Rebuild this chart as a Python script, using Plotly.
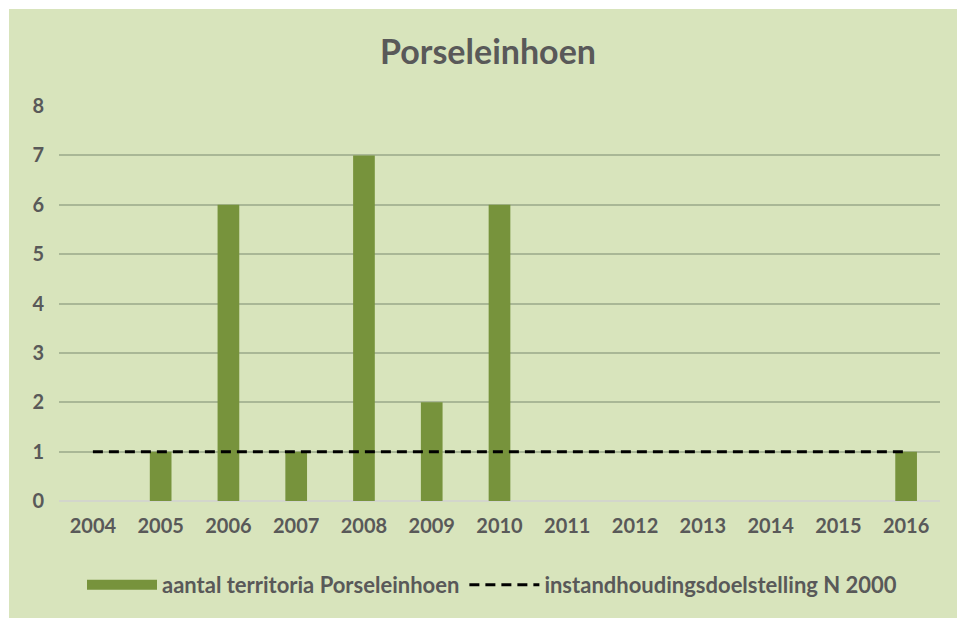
import plotly.graph_objects as go

years = ["2004", "2005", "2006", "2007", "2008", "2009", "2010",
         "2011", "2012", "2013", "2014", "2015", "2016"]
territoria = [0, 1, 6, 1, 7, 2, 6, 0, 0, 0, 0, 0, 1]
doelstelling = [1, 1, 1, 1, 1, 1, 1, 1, 1, 1, 1, 1, 1]
y_ticks = [0, 1, 2, 3, 4, 5, 6, 7, 8]

W, H = 957, 618
L, R, T, B = 59, 17, 106, 117
bg = "#d8e4bc"
bar_col = "#77933c"
txt = "#595959"
font_fam = "Lato, Calibri, Carlito, sans-serif"

fig = go.Figure()
fig.add_trace(go.Bar(
    x=years, y=territoria, name="aantal territoria Porseleinhoen",
    marker=dict(color=bar_col, line=dict(width=0)),
    showlegend=False,
))
# legend proxy for the bar series (wide bar swatch)
fig.add_trace(go.Scatter(
    x=[None], y=[None], mode="lines", name="aantal territoria Porseleinhoen",
    line=dict(color=bar_col, width=14), showlegend=True,
))
fig.add_trace(go.Scatter(
    x=years, y=doelstelling, mode="lines", name="instandhoudingsdoelstelling N 2000",
    line=dict(color="black", width=3, dash="10px,6px"),
))

pw = W - L - R
ph = H - T - B
top = (H - B) / ph     # paper y of figure top edge
bot = -B / ph          # paper y of figure bottom edge
# white frame strips on the top and left edge
fig.add_shape(type="rect", xref="paper", yref="paper",
              x0=-L / pw, x1=(9 - L) / pw, y0=bot, y1=top,
              fillcolor="white", line=dict(width=0), layer="above")
fig.add_shape(type="rect", xref="paper", yref="paper",
              x0=-L / pw, x1=(W - L) / pw, y0=(H - B - 9) / ph, y1=top,
              fillcolor="white", line=dict(width=0), layer="above")

fig.update_layout(
    width=W, height=H,
    margin=dict(l=L, r=R, t=T, b=B),
    paper_bgcolor=bg, plot_bgcolor=bg,
    title=dict(text="<b>Porseleinhoen</b>", x=(488 - L) / pw, xanchor="center",
               xref="paper",
               y=1 - 52 / H, yanchor="middle",
               font=dict(family=font_fam, size=34, color=txt)),
    font=dict(family=font_fam, color=txt),
    bargap=0.68,
    xaxis=dict(type="category", showgrid=False, showline=False, ticks="",
               tickfont=dict(size=20, color=txt, weight="bold"),
               ticklabelstandoff=11),
    yaxis=dict(range=[0, 8], tickvals=y_ticks, showgrid=True,
               gridcolor="#a9b796", gridwidth=1.5,
               zeroline=True, zerolinecolor="#d3d6cc", zerolinewidth=2,
               ticks="", tickfont=dict(size=20, color=txt, weight="bold"),
               ticklabelstandoff=14),
    legend=dict(orientation="h", x=(492 - L) / pw, xanchor="center",
                y=-(585 - (H - B)) / ph,
                yanchor="middle", itemwidth=70,
                font=dict(size=22, color=txt, weight="bold"),
                bgcolor="rgba(0,0,0,0)", traceorder="normal"),
)

fig.write_html(
    "out.html",
    config={"displayModeBar": False},
    post_script="document.documentElement.style.overflow='hidden';"
                "document.body.style.overflow='hidden';"
                "document.body.style.margin='0';"
                "document.body.style.padding='0';",
)
